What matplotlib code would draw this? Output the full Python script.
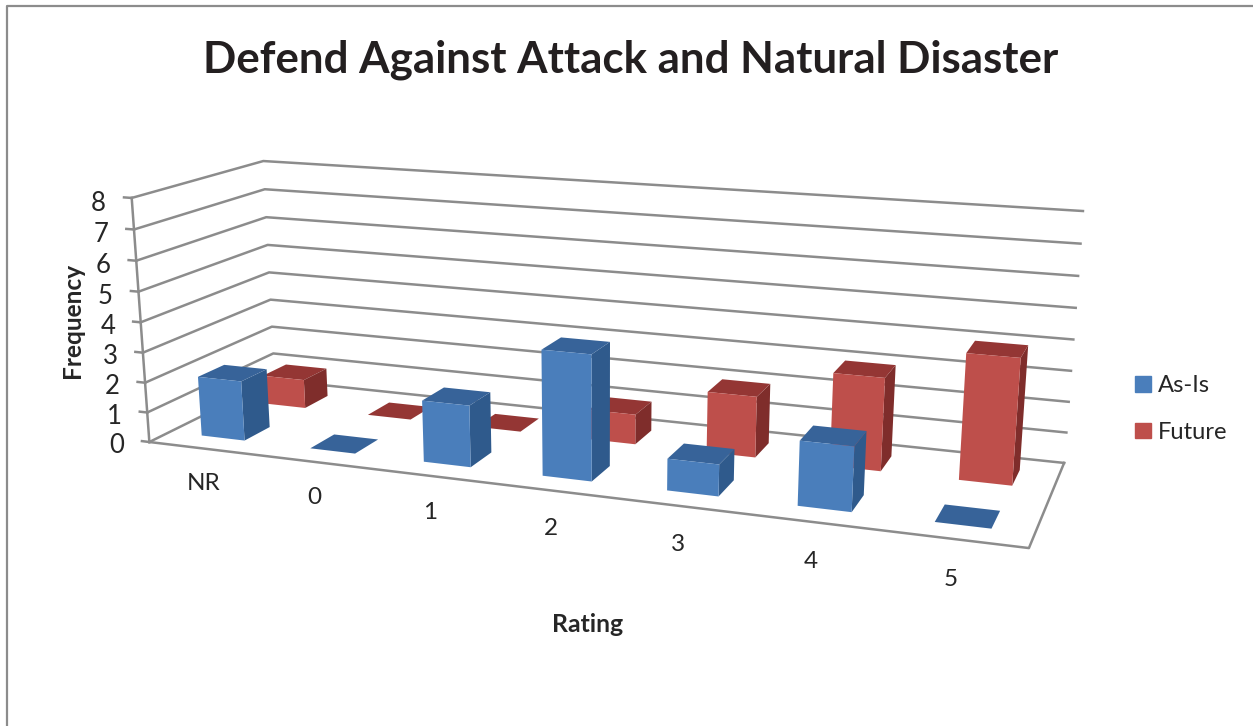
import numpy as np
import matplotlib
matplotlib.use('Agg')
import matplotlib.pyplot as plt
from matplotlib.lines import Line2D
from matplotlib.patches import Patch
from mpl_toolkits.mplot3d import proj3d

plt.rcParams['font.family'] = ['Lato', 'DejaVu Sans']

categories = ['NR', '0', '1', '2', '3', '4', '5']
as_is = [2, 0, 2, 4, 1, 2, 0]
future = [1, 0, 0, 1, 2, 3, 4]
z_ticks = [0, 1, 2, 3, 4, 5, 6, 7, 8]

W, H = 1253, 726
TEXT = '#262626'
GRID = '#8c8c8c'
BLUE = ['#4a7ebb', '#376399', '#2f5a8c']   # front, top, side
RED = ['#be4f4b', '#943634', '#7f2d2b']

# where the corners of the chart box sit in the image
box = [(0, 0, 0), (7, 0, 0), (7, 1, 0), (0, 1, 0), (0, 0, 8), (0, 1, 8), (7, 1, 8)]
box_px = [(149, 442), (1029, 548), (1064, 463), (275, 380), (132, 198), (263, 161), (1083, 211)]

fig = plt.figure(figsize=(W / 100, H / 100), dpi=100)
ax = fig.add_subplot(projection='3d', computed_zorder=False)
ax.set_position([0, 0, 1, 1])
ax.apply_aspect = lambda position=None: None
ax.set_axis_off()


# camera fitted to the box corners, replaces the stock view
def fitted_proj():
    x0, x1 = ax.viewLim.intervalx
    y0, y1 = ax.viewLim.intervaly
    rows = []
    for (x, y, z), (px, py) in zip(box, box_px):
        u = x0 + px / W * (x1 - x0)
        v = y1 - py / H * (y1 - y0)
        rows.append([x, y, z, 1, 0, 0, 0, 0, -u * x, -u * y, -u * z, -u])
        rows.append([0, 0, 0, 0, x, y, z, 1, -v * x, -v * y, -v * z, -v])
    p = np.linalg.svd(np.array(rows))[2][-1].reshape(3, 4)
    if p[2] @ [3.5, 0.5, 4, 1] < 0:
        p = -p
    return np.array([p[0], p[1], [0, 0, 0, -1], p[2]])


ax.get_proj = fitted_proj


def label_at(x, y, z, s, **kw):
    u, v, _ = proj3d.proj_transform(x, y, z, fitted_proj())
    ax.text2D(u, v, s, transform=ax.transData, color=TEXT, va='center', **kw)


# walls and floor
for z in z_ticks:
    ax.plot([0, 0, 7], [0, 1, 1], [z, z, z], color=GRID, lw=1.8, zorder=1)
    ax.plot([-0.07, 0], [0, 0], [z, z], color=GRID, lw=1.8, zorder=1)
    label_at(-0.24, 0, z - 0.22, str(z), ha='right', fontsize=18.5)
ax.plot([0, 0], [0, 0], [0, 8], color=GRID, lw=1.8, zorder=1)
ax.plot([0, 7, 7], [0, 0, 1], [0, 0, 0], color=GRID, lw=1.8, zorder=1)


def draw_bars(values, row, cols, zorder):
    front, top, side = cols
    none = (0, 0, 0, 0)
    # bar3d face order: bottom, top, front, back, left, right
    faces = [none, top, front, none, none, side]
    for i, val in enumerate(values):
        ax.bar3d(i + 0.3, row + 0.15, 0, 0.4, 0.2, val, color=faces, shade=False,
                 linewidth=0, zorder=zorder)


draw_bars(future, 0.5, RED, 2)
draw_bars(as_is, 0, BLUE, 3)

for i, c in enumerate(categories):
    label_at(i + 0.5 - 0.015, 0, -1.2, c, ha='center', fontsize=17.5)

fig.text(631 / W, 1 - 60 / H, 'Defend Against Attack and Natural Disaster', ha='center', va='center',
         fontsize=31.6, fontweight='bold', color='#231f20')
fig.text(72 / W, 1 - 320 / H, 'Frequency', rotation=90, ha='center', va='center', fontsize=17.6,
         fontweight='bold', color=TEXT)
fig.text(588 / W, 1 - 625 / H, 'Rating', ha='center', va='center', fontsize=17.8, fontweight='bold', color=TEXT)

handles = [Patch(color=BLUE[0], label='As-Is'), Patch(color=RED[0], label='Future')]
fig.legend(handles=handles, loc='center left', bbox_to_anchor=(1114 / W, 1 - 409 / H), frameon=False,
           fontsize=17.1, labelcolor=TEXT, handlelength=0.64, handleheight=0.64, handletextpad=0.3,
           labelspacing=1.08)

# outer chart border
fig.add_artist(Line2D([7 / W, 7 / W, 1], [0, 1 - 6 / H, 1 - 6 / H], color=GRID, lw=1.6))

fig.savefig('out.png', dpi=100)
